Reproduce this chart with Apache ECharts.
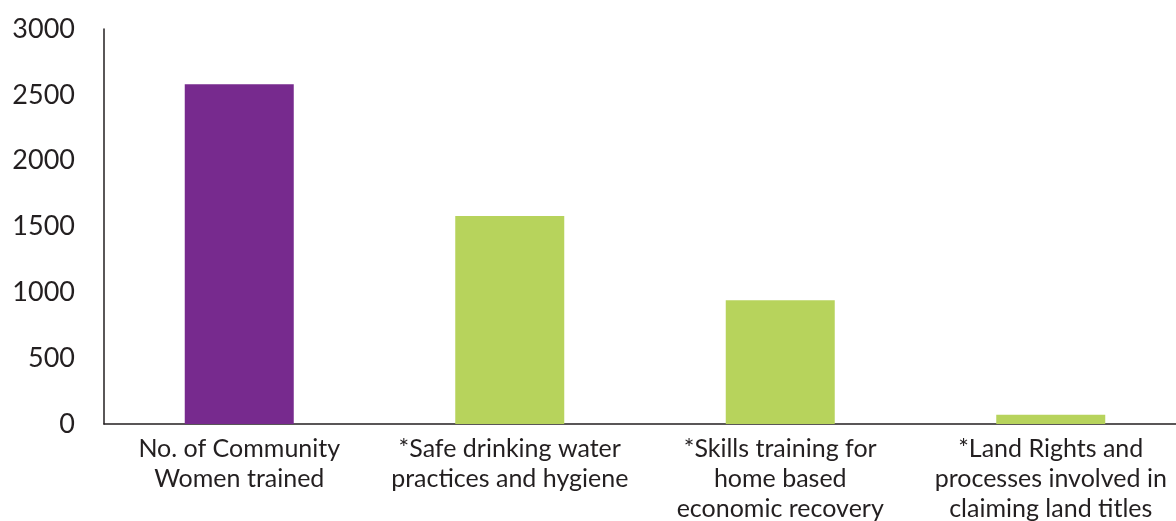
<!DOCTYPE html>
<html><head><meta charset="utf-8">
<script src="https://cdn.jsdelivr.net/npm/echarts@6/dist/echarts.min.js"></script>
<style>html,body{margin:0;padding:0;background:#fff;overflow:hidden}#c{width:1176px;height:521px}</style>
</head><body><div id="c"></div>
<script>
const categories = [
  "No. of Community\nWomen trained",
  "*Safe drinking water\npractices and hygiene",
  "*Skills training for\nhome based\neconomic recovery",
  "*Land Rights and\nprocesses involved in\nclaiming land titles"
];
const values = [2580, 1580, 940, 70];
const barColors = ["#772a8e", "#b7d35c", "#b7d35c", "#b7d35c"];
const yTicks = { min: 0, max: 3000, interval: 500 };

const chart = echarts.init(document.getElementById('c'));
chart.setOption({
  animation: false,
  grid: { left: 104, width: 1082, top: 29, height: 395, containLabel: false, outerBoundsMode: 'none' },
  xAxis: {
    type: 'category',
    data: categories,
    axisLine: { lineStyle: { color: '#231f20', width: 1.5 } },
    axisTick: { show: false },
    axisLabel: { interval: 0, margin: 10, color: '#231f20', fontFamily: 'Lato', fontSize: 25, lineHeight: 30 }
  },
  yAxis: {
    type: 'value',
    min: yTicks.min, max: yTicks.max, interval: yTicks.interval,
    axisLine: { show: true, lineStyle: { color: '#231f20', width: 1.5 } },
    axisTick: { show: false },
    splitLine: { show: false },
    axisLabel: { margin: 29, color: '#231f20', fontFamily: 'Lato', fontSize: 27, formatter: v => String(v) }
  },
  series: [{
    type: 'bar',
    barWidth: 109,
    data: values.map((v, i) => ({ value: v, itemStyle: { color: barColors[i] } }))
  }]
});
</script></body></html>
